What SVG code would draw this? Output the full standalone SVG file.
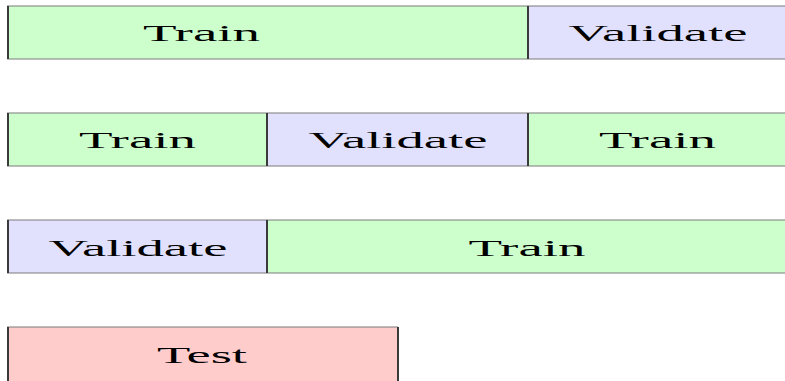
<svg xmlns="http://www.w3.org/2000/svg" width="785" height="381" viewBox="0 0 785 381">
<style>
.tr{fill:#ccffcc}
.va{fill:#e1e1fe}
.te{fill:#ffcccc}
.h{stroke:#7a7a7a;stroke-width:1.2}
.v{stroke:#3a3a3a;stroke-width:2}
text{font-family:"Liberation Serif","DejaVu Serif",serif;font-size:23px;fill:#000;text-anchor:middle}
</style>
<rect width="785" height="381" fill="#fff"/>
<g id="row1-train">
<rect class="tr" x="8" y="6" width="520" height="53"/>
<line class="h" x1="7" y1="6" x2="528" y2="6"/><line class="h" x1="7" y1="59" x2="528" y2="59"/>
<line class="v" x1="8" y1="6" x2="8" y2="59"/>
<text x="201.5" y="41" textLength="117" lengthAdjust="spacingAndGlyphs">Train</text>
</g>
<g id="row1-validate">
<rect class="va" x="528" y="6" width="260" height="53"/>
<line class="h" x1="528" y1="6" x2="790" y2="6"/><line class="h" x1="528" y1="59" x2="790" y2="59"/>
<line class="v" x1="528" y1="6" x2="528" y2="59"/>
<text x="658" y="41" textLength="179" lengthAdjust="spacingAndGlyphs">Validate</text>
</g>
<g id="row2-train1">
<rect class="tr" x="8" y="113" width="259" height="53"/>
<line class="h" x1="7" y1="113" x2="267" y2="113"/><line class="h" x1="7" y1="166" x2="267" y2="166"/>
<line class="v" x1="8" y1="113" x2="8" y2="166"/>
<text x="137.5" y="148" textLength="117" lengthAdjust="spacingAndGlyphs">Train</text>
</g>
<g id="row2-validate">
<rect class="va" x="267" y="113" width="261" height="53"/>
<line class="h" x1="267" y1="113" x2="528" y2="113"/><line class="h" x1="267" y1="166" x2="528" y2="166"/>
<line class="v" x1="267" y1="113" x2="267" y2="166"/>
<text x="398" y="148" textLength="179" lengthAdjust="spacingAndGlyphs">Validate</text>
</g>
<g id="row2-train2">
<rect class="tr" x="528" y="113" width="260" height="53"/>
<line class="h" x1="528" y1="113" x2="790" y2="113"/><line class="h" x1="528" y1="166" x2="790" y2="166"/>
<line class="v" x1="528" y1="113" x2="528" y2="166"/>
<text x="657.5" y="148" textLength="117" lengthAdjust="spacingAndGlyphs">Train</text>
</g>
<g id="row3-validate">
<rect class="va" x="8" y="220" width="259" height="53"/>
<line class="h" x1="7" y1="220" x2="267" y2="220"/><line class="h" x1="7" y1="273" x2="267" y2="273"/>
<line class="v" x1="8" y1="220" x2="8" y2="273"/>
<text x="138" y="256" textLength="179" lengthAdjust="spacingAndGlyphs">Validate</text>
</g>
<g id="row3-train">
<rect class="tr" x="267" y="220" width="521" height="53"/>
<line class="h" x1="267" y1="220" x2="790" y2="220"/><line class="h" x1="267" y1="273" x2="790" y2="273"/>
<line class="v" x1="267" y1="220" x2="267" y2="273"/>
<text x="527" y="256" textLength="117" lengthAdjust="spacingAndGlyphs">Train</text>
</g>
<g id="test">
<rect class="te" x="8" y="327" width="390" height="60"/>
<line class="h" x1="7" y1="327" x2="398" y2="327"/>
<line class="v" x1="8" y1="327" x2="8" y2="390"/>
<line class="v" x1="398" y1="327" x2="398" y2="390"/>
<text x="202" y="363" textLength="90" lengthAdjust="spacingAndGlyphs">Test</text>
</g>
</svg>
